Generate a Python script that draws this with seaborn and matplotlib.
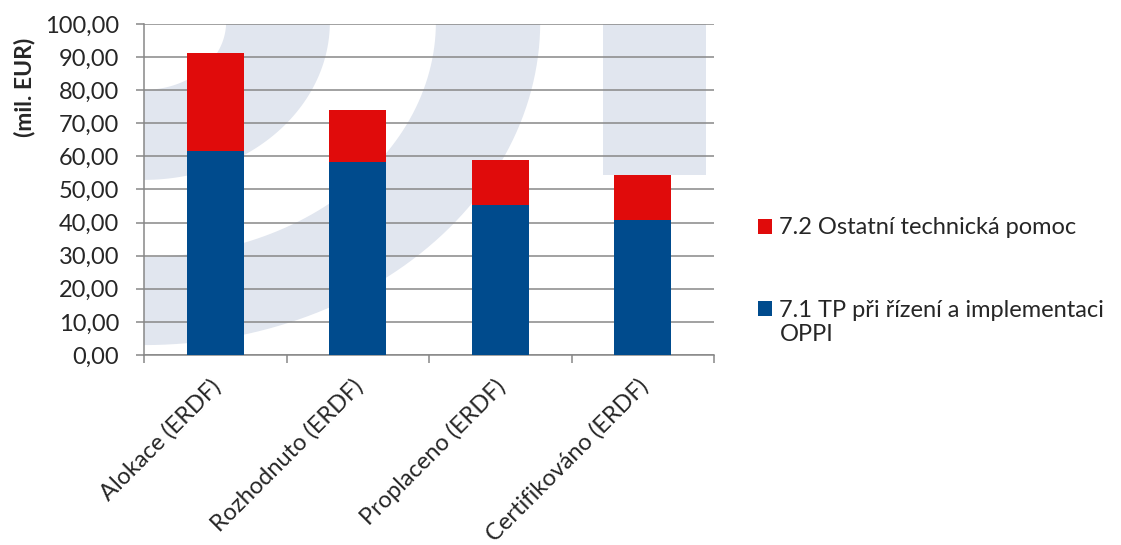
import numpy as np
import pandas as pd
import matplotlib
matplotlib.use('Agg')
import matplotlib.pyplot as plt
import seaborn as sns
from matplotlib.patches import Polygon, Rectangle, Patch
from matplotlib.legend_handler import HandlerPatch
from matplotlib.ticker import FuncFormatter, FixedLocator
from matplotlib.transforms import ScaledTranslation

# data (mil. EUR)
categories = ['Alokace (ERDF)', 'Rozhodnuto (ERDF)', 'Proplaceno (ERDF)', 'Certifikováno (ERDF)']
tp_71 = [61.6, 58.3, 45.3, 40.8]     # 7.1 TP při řízení a implementaci OPPI
tp_72 = [29.6, 15.7, 13.6, 13.6]     # 7.2 Ostatní technická pomoc
label_71 = '7.1 TP při řízení a implementaci\nOPPI'
label_72 = '7.2 Ostatní technická pomoc'

blue = '#004b8d'
red = '#e00b0b'
grid_col = '#878787'
wm_col = '#e1e6ef'
fs = 17

sns.set_style('white')
plt.rcParams['font.family'] = ['Lato', 'DejaVu Sans']

df = pd.DataFrame({'cat': categories, 'tp71': tp_71, 'tp72': tp_72})
df['total'] = df['tp71'] + df['tp72']

fig = plt.figure(figsize=(11.21, 5.45), dpi=100)
ax = fig.add_axes([0.1285, 0.3486, 0.5085, 0.6074])

# faint background logo
cx, cy = 0.0, 1.006
t = np.linspace(0, -np.pi / 2, 60)
for hi, vi, ho, vo in [(0.144, 0.205, 0.326, 0.477), (0.512, 0.710, 0.695, 0.976)]:
    outer = np.column_stack([cx + ho * np.cos(t), cy + vo * np.sin(t)])
    inner = np.column_stack([cx + hi * np.cos(t[::-1]), cy + vi * np.sin(t[::-1])])
    ax.add_patch(Polygon(np.vstack([outer, inner]), closed=True, transform=ax.transAxes,
                         facecolor=wm_col, edgecolor='none', zorder=0))
ax.add_patch(Rectangle((0.805, 0.544), 0.181, 0.46, transform=ax.transAxes,
                       facecolor=wm_col, edgecolor='none', zorder=0))

sns.barplot(data=df, x='cat', y='total', color=red, saturation=1, width=0.4,
            linewidth=0, ax=ax, zorder=2)
sns.barplot(data=df, x='cat', y='tp71', color=blue, saturation=1, width=0.4,
            linewidth=0, ax=ax, zorder=3)

ax.set_xlim(-0.5, len(categories) - 0.5)
ax.set_ylim(0, 100)
ax.set_yticks(np.arange(0, 101, 10))
ax.yaxis.set_major_formatter(FuncFormatter(lambda v, p: f'{v:.2f}'.replace('.', ',')))
ax.grid(axis='y', color=grid_col, linewidth=1.1)
ax.set_axisbelow(True)

for s in ['top', 'right']:
    ax.spines[s].set_visible(False)
for s in ['left', 'bottom']:
    ax.spines[s].set_color(grid_col)
    ax.spines[s].set_linewidth(1.1)

ax.tick_params(axis='y', which='major', left=True, length=6, width=1.1, color=grid_col,
               labelsize=fs, pad=12)
ax.tick_params(axis='x', which='major', bottom=False, labelsize=fs, pad=4)
ax.xaxis.set_minor_locator(FixedLocator(np.arange(-0.5, len(categories), 1.0)))
ax.tick_params(axis='x', which='minor', bottom=True, length=6, width=1.1, color=grid_col)
shift = ScaledTranslation(-0.06, -0.10, fig.dpi_scale_trans)
for lab in ax.get_xticklabels():
    lab.set_rotation(45)
    lab.set_ha('right')
    lab.set_rotation_mode('anchor')
    lab.set_transform(lab.get_transform() + shift)

ax.set_xlabel('')
ax.set_ylabel('(mil. EUR)', fontsize=16.5, fontweight='bold')
ax.yaxis.set_label_coords(-0.19, 0.81)


# put the square of a two-line entry next to its first line
def first_line_square(legend, orig_handle, xdescent, ydescent, width, height, fontsize):
    up = 0.6 * fontsize if '\n' in orig_handle.get_label() else 0
    return Rectangle((-xdescent, -ydescent + up), width, height)


handles = [Patch(facecolor=red, edgecolor='none', label=label_72),
           Patch(facecolor=blue, edgecolor='none', label=label_71)]
ax.legend(handles=handles, loc='upper left', bbox_to_anchor=(1.04, 0.48), frameon=False,
          fontsize=fs, handlelength=0.6, handleheight=0.6, handletextpad=0.3,
          labelspacing=2.6, handler_map={Patch: HandlerPatch(patch_func=first_line_square)})

fig.savefig('out.png', dpi=100)
